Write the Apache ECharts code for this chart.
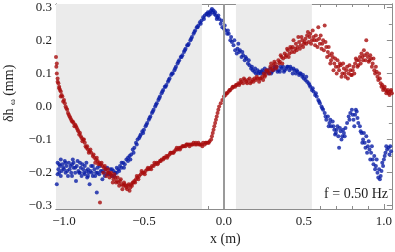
<!DOCTYPE html>
<html><head><meta charset="utf-8">
<script src="https://cdn.jsdelivr.net/npm/echarts@6/dist/echarts.min.js"></script>
<style>html,body{margin:0;padding:0;background:#fff}#c{width:395px;height:252px}</style>
</head><body><div id="c"></div>
<script>
const xTickLabels = [-1.0, -0.5, 0.0, 0.5, 1.0];
const yTickLabels = [-0.3, -0.2, -0.1, 0.0, 0.1, 0.2, 0.3];
const subRegion = [-1.05, -0.1375];
const superRegion = [0.075, 0.55];
const blueSeries = [[-1.045,-0.235],[-1.04,-0.17],[-1.035,-0.19],[-1.03,-0.2],[-1.025,-0.18],[-1.02,-0.16],[-1.015,-0.195],[-1.01,-0.175],[-1.0,-0.19],[-0.995,-0.165],[-0.99,-0.2],[-0.985,-0.18],[-0.975,-0.21],[-0.97,-0.17],[-0.965,-0.19],[-0.955,-0.2],[-0.95,-0.175],[-0.945,-0.16],[-0.94,-0.185],[-0.93,-0.2],[-0.925,-0.225],[-0.92,-0.18],[-0.91,-0.195],[-0.905,-0.2],[-0.9,-0.17],[-0.895,-0.185],[-0.89,-0.21],[-0.88,-0.19],[-0.875,-0.2],[-0.87,-0.18],[-0.86,-0.195],[-0.855,-0.215],[-0.85,-0.19],[-0.845,-0.2],[-0.84,-0.235],[-0.83,-0.18],[-0.825,-0.2],[-0.82,-0.21],[-0.81,-0.19],[-0.8,-0.2],[-0.795,-0.26],[-0.79,-0.185],[-0.78,-0.205],[-0.77,-0.195],[-0.76,-0.22],[-0.75,-0.2],[-0.74,-0.19],[-0.73,-0.205],[-0.72,-0.2],[-0.71,-0.19],[-0.7,-0.21],[-0.69,-0.195],[-0.68,-0.2],[-0.67,-0.185],[-0.66,-0.19],[-0.65,-0.18],[-0.64,-0.185],[-0.63,-0.17],[-0.62,-0.175],[-0.61,-0.16],[-0.6,-0.165],[-0.59,-0.15],[-0.58,-0.145],[-0.57,-0.13],[-0.56,-0.125],[-0.55,-0.11],[-0.54,-0.1],[-0.53,-0.095],[-0.52,-0.085],[-0.51,-0.075],[-0.5,-0.07],[-0.49,-0.06],[-0.48,-0.05],[-0.47,-0.04],[-0.46,-0.03],[-0.45,-0.02],[-0.44,-0.01],[-0.43,0.0],[-0.42,0.01],[-0.41,0.02],[-0.4,0.03],[-0.39,0.04],[-0.38,0.05],[-0.37,0.06],[-0.36,0.065],[-0.35,0.075],[-0.34,0.085],[-0.33,0.095],[-0.32,0.1],[-0.31,0.11],[-0.3,0.12],[-0.29,0.13],[-0.28,0.14],[-0.27,0.15],[-0.26,0.155],[-0.25,0.165],[-0.24,0.175],[-0.23,0.185],[-0.22,0.19],[-0.21,0.2],[-0.2,0.21],[-0.19,0.22],[-0.18,0.23],[-0.17,0.24],[-0.16,0.245],[-0.15,0.255],[-0.14,0.26],[-0.13,0.27],[-0.12,0.275],[-0.11,0.28],[-0.1,0.285],[-0.09,0.285],[-0.08,0.29],[-0.07,0.285],[-0.06,0.28],[-0.05,0.275],[-0.04,0.27],[-0.03,0.265],[-0.02,0.25],[-0.01,0.24],[0.0,0.235],[0.01,0.23],[0.02,0.22],[0.03,0.22],[0.04,0.2],[0.05,0.195],[0.06,0.185],[0.07,0.17],[0.08,0.16],[0.09,0.19],[0.1,0.17],[0.11,0.15],[0.12,0.155],[0.13,0.14],[0.14,0.145],[0.15,0.13],[0.16,0.125],[0.17,0.115],[0.18,0.11],[0.19,0.105],[0.2,0.1],[0.21,0.11],[0.22,0.105],[0.23,0.1],[0.24,0.11],[0.25,0.1],[0.26,0.105],[0.27,0.11],[0.28,0.1],[0.29,0.115],[0.3,0.105],[0.31,0.11],[0.32,0.115],[0.33,0.12],[0.34,0.11],[0.35,0.105],[0.36,0.115],[0.37,0.12],[0.38,0.11],[0.39,0.115],[0.4,0.12],[0.41,0.11],[0.42,0.115],[0.43,0.1],[0.44,0.11],[0.45,0.1],[0.46,0.105],[0.47,0.095],[0.48,0.1],[0.49,0.09],[0.5,0.085],[0.51,0.08],[0.52,0.075],[0.53,0.07],[0.54,0.06],[0.55,0.05],[0.56,0.045],[0.57,0.035],[0.58,0.03],[0.59,0.02],[0.6,0.01],[0.61,0.0],[0.62,-0.01],[0.63,-0.02],[0.64,-0.04],[0.65,-0.03],[0.66,-0.05],[0.67,-0.06],[0.68,-0.045],[0.69,-0.07],[0.7,-0.08],[0.71,-0.06],[0.72,-0.125],[0.73,-0.075],[0.74,-0.09],[0.75,-0.08],[0.76,-0.065],[0.77,-0.05],[0.78,-0.03],[0.79,-0.02],[0.8,-0.01],[0.81,-0.04],[0.82,-0.025],[0.83,-0.015],[0.84,-0.05],[0.85,-0.06],[0.86,-0.08],[0.87,-0.1],[0.88,-0.11],[0.89,-0.09],[0.9,-0.12],[0.91,-0.13],[0.92,-0.14],[0.93,-0.16],[0.94,-0.15],[0.95,-0.18],[0.96,-0.2],[0.97,-0.19],[0.975,-0.22],[0.98,-0.21],[0.99,-0.17],[1.0,-0.16],[1.01,-0.14],[1.02,-0.13],[1.03,-0.125],[1.04,-0.12],[1.045,-0.135]];
const blueExtra = [[-1.04,-0.205],[-1.03,-0.175],[-1.02,-0.21],[-1.005,-0.185],[-0.99,-0.17],[-0.98,-0.195],[-0.96,-0.18],[-0.95,-0.21],[-0.94,-0.17],[-0.93,-0.185],[-0.915,-0.165],[-0.9,-0.2],[-0.885,-0.175],[-0.87,-0.205],[-0.86,-0.17],[-0.85,-0.21],[-0.835,-0.195],[-0.82,-0.18],[-0.805,-0.21],[-0.79,-0.2],[-0.775,-0.18],[-0.76,-0.195],[-0.745,-0.21],[-0.73,-0.185],[-0.715,-0.205],[-0.7,-0.19],[-0.685,-0.21],[-0.67,-0.2],[-0.655,-0.195],[-0.64,-0.17],[-0.625,-0.185],[-0.6,-0.155],[-0.585,-0.16],[-0.565,-0.14],[-0.545,-0.115],[-0.525,-0.09],[-0.505,-0.08],[-0.485,-0.055],[-0.465,-0.035],[-0.445,-0.015],[-0.425,0.005],[-0.405,0.025],[-0.385,0.045],[-0.365,0.06],[-0.345,0.08],[-0.325,0.1],[-0.305,0.115],[-0.285,0.135],[-0.265,0.15],[-0.245,0.17],[-0.225,0.185],[-0.205,0.205],[-0.185,0.225],[-0.165,0.24],[-0.145,0.25],[-0.125,0.265],[-0.105,0.28],[-0.095,0.275],[-0.085,0.28],[-0.075,0.295],[-0.065,0.29],[-0.055,0.285],[-0.045,0.265],[-0.035,0.275],[-0.015,0.26],[0.005,0.245],[0.025,0.23],[0.045,0.21],[0.065,0.2],[0.085,0.175],[0.095,0.165],[0.115,0.165],[0.135,0.15],[0.155,0.14],[0.175,0.12],[0.195,0.115],[0.215,0.1],[0.235,0.105],[0.255,0.115],[0.275,0.105],[0.295,0.1],[0.315,0.12],[0.335,0.105],[0.355,0.12],[0.375,0.105],[0.395,0.12],[0.415,0.12],[0.435,0.115],[0.455,0.11],[0.475,0.1],[0.495,0.095],[0.515,0.09],[0.535,0.065],[0.555,0.055],[0.575,0.04],[0.595,0.015],[0.615,-0.005],[0.635,-0.03],[0.655,-0.06],[0.665,-0.04],[0.685,-0.06],[0.695,-0.085],[0.705,-0.07],[0.715,-0.09],[0.725,-0.065],[0.735,-0.1],[0.745,-0.07],[0.755,-0.09],[0.785,-0.04],[0.805,-0.025],[0.815,-0.06],[0.825,-0.01],[0.835,-0.035],[0.855,-0.075],[0.865,-0.11],[0.875,-0.08],[0.885,-0.125],[0.895,-0.14],[0.905,-0.105],[0.915,-0.16],[0.925,-0.12],[0.935,-0.175],[0.945,-0.19],[0.955,-0.16],[0.965,-0.215],[0.985,-0.195],[0.995,-0.18],[1.005,-0.15],[1.015,-0.12],[1.035,-0.145]];
const redSeries = [[-1.05,0.15],[-1.048,0.12],[-1.045,0.1],[-1.04,0.085],[-1.035,0.07],[-1.03,0.06],[-1.025,0.05],[-1.02,0.045],[-1.015,0.035],[-1.01,0.03],[-1.0,0.02],[-0.995,0.01],[-0.99,0.0],[-0.98,-0.01],[-0.975,-0.02],[-0.97,-0.025],[-0.96,-0.035],[-0.955,-0.04],[-0.95,-0.045],[-0.94,-0.05],[-0.93,-0.055],[-0.925,-0.06],[-0.92,-0.065],[-0.91,-0.075],[-0.9,-0.08],[-0.895,-0.09],[-0.89,-0.095],[-0.88,-0.1],[-0.87,-0.11],[-0.865,-0.12],[-0.86,-0.125],[-0.85,-0.13],[-0.84,-0.135],[-0.83,-0.14],[-0.82,-0.15],[-0.81,-0.155],[-0.8,-0.16],[-0.79,-0.165],[-0.78,-0.17],[-0.775,-0.29],[-0.77,-0.175],[-0.76,-0.18],[-0.75,-0.185],[-0.74,-0.19],[-0.73,-0.2],[-0.72,-0.2],[-0.71,-0.205],[-0.7,-0.21],[-0.69,-0.22],[-0.68,-0.215],[-0.67,-0.225],[-0.66,-0.23],[-0.65,-0.225],[-0.64,-0.235],[-0.63,-0.24],[-0.62,-0.235],[-0.61,-0.245],[-0.6,-0.24],[-0.59,-0.255],[-0.58,-0.235],[-0.57,-0.23],[-0.56,-0.225],[-0.55,-0.22],[-0.54,-0.215],[-0.53,-0.21],[-0.52,-0.205],[-0.51,-0.2],[-0.5,-0.2],[-0.49,-0.195],[-0.48,-0.19],[-0.47,-0.19],[-0.46,-0.185],[-0.45,-0.18],[-0.44,-0.18],[-0.43,-0.175],[-0.42,-0.17],[-0.41,-0.17],[-0.4,-0.165],[-0.39,-0.16],[-0.38,-0.16],[-0.37,-0.155],[-0.36,-0.15],[-0.35,-0.15],[-0.34,-0.145],[-0.33,-0.14],[-0.32,-0.14],[-0.31,-0.135],[-0.3,-0.13],[-0.29,-0.13],[-0.28,-0.125],[-0.27,-0.125],[-0.26,-0.12],[-0.25,-0.12],[-0.24,-0.12],[-0.23,-0.115],[-0.22,-0.115],[-0.21,-0.115],[-0.2,-0.115],[-0.19,-0.11],[-0.18,-0.115],[-0.17,-0.115],[-0.16,-0.11],[-0.15,-0.115],[-0.14,-0.115],[-0.13,-0.11],[-0.12,-0.115],[-0.11,-0.11],[-0.1,-0.11],[-0.09,-0.105],[-0.08,-0.1],[-0.075,-0.09],[-0.07,-0.08],[-0.065,-0.07],[-0.06,-0.06],[-0.055,-0.05],[-0.05,-0.04],[-0.045,-0.03],[-0.04,-0.02],[-0.035,-0.01],[-0.03,0.0],[-0.02,0.01],[-0.01,0.02],[0.0,0.03],[0.01,0.035],[0.02,0.04],[0.03,0.045],[0.04,0.05],[0.05,0.055],[0.06,0.06],[0.07,0.06],[0.08,0.065],[0.09,0.07],[0.1,0.07],[0.11,0.075],[0.12,0.07],[0.13,0.08],[0.14,0.075],[0.15,0.08],[0.16,0.085],[0.17,0.075],[0.18,0.08],[0.19,0.085],[0.2,0.08],[0.21,0.085],[0.22,0.075],[0.23,0.085],[0.24,0.09],[0.25,0.1],[0.26,0.095],[0.27,0.105],[0.28,0.11],[0.29,0.12],[0.3,0.115],[0.31,0.125],[0.32,0.13],[0.33,0.12],[0.34,0.14],[0.35,0.135],[0.36,0.15],[0.37,0.145],[0.38,0.16],[0.39,0.155],[0.4,0.17],[0.41,0.16],[0.42,0.175],[0.43,0.18],[0.44,0.165],[0.45,0.19],[0.46,0.18],[0.47,0.195],[0.48,0.185],[0.49,0.2],[0.5,0.19],[0.51,0.205],[0.52,0.215],[0.53,0.195],[0.54,0.22],[0.55,0.2],[0.56,0.21],[0.57,0.185],[0.58,0.2],[0.59,0.24],[0.6,0.19],[0.61,0.175],[0.62,0.2],[0.63,0.245],[0.64,0.18],[0.65,0.165],[0.66,0.155],[0.67,0.14],[0.68,0.15],[0.69,0.13],[0.7,0.12],[0.71,0.14],[0.72,0.11],[0.73,0.125],[0.74,0.1],[0.75,0.115],[0.76,0.09],[0.77,0.12],[0.78,0.1],[0.79,0.11],[0.8,0.095],[0.81,0.12],[0.82,0.13],[0.83,0.14],[0.84,0.125],[0.85,0.15],[0.86,0.16],[0.87,0.14],[0.88,0.155],[0.89,0.2],[0.9,0.15],[0.91,0.14],[0.92,0.145],[0.93,0.13],[0.94,0.11],[0.95,0.12],[0.96,0.09],[0.97,0.1],[0.98,0.07],[0.99,0.065],[1.0,0.055],[1.01,0.05],[1.02,0.045],[1.03,0.04],[1.04,0.045],[1.05,0.04]];
const redExtra = [[-1.045,0.13],[-1.04,0.075],[-1.03,0.055],[-1.02,0.03],[-1.005,0.015],[-0.985,-0.005],[-0.965,-0.03],[-0.945,-0.045],[-0.935,-0.06],[-0.915,-0.07],[-0.905,-0.085],[-0.885,-0.105],[-0.875,-0.1],[-0.855,-0.12],[-0.845,-0.14],[-0.835,-0.13],[-0.815,-0.145],[-0.805,-0.17],[-0.795,-0.155],[-0.785,-0.175],[-0.765,-0.17],[-0.755,-0.2],[-0.745,-0.18],[-0.735,-0.21],[-0.725,-0.19],[-0.715,-0.215],[-0.705,-0.2],[-0.695,-0.23],[-0.685,-0.205],[-0.675,-0.23],[-0.665,-0.215],[-0.655,-0.24],[-0.645,-0.22],[-0.635,-0.25],[-0.625,-0.23],[-0.615,-0.24],[-0.605,-0.25],[-0.595,-0.235],[-0.585,-0.245],[-0.575,-0.24],[-0.565,-0.23],[-0.555,-0.23],[-0.545,-0.21],[-0.535,-0.22],[-0.515,-0.195],[-0.495,-0.205],[-0.475,-0.185],[-0.455,-0.19],[-0.435,-0.17],[-0.415,-0.175],[-0.395,-0.165],[-0.375,-0.155],[-0.355,-0.155],[-0.335,-0.14],[-0.315,-0.14],[-0.295,-0.125],[-0.275,-0.13],[-0.255,-0.12],[-0.235,-0.115],[-0.215,-0.12],[-0.195,-0.115],[-0.175,-0.11],[-0.155,-0.115],[-0.135,-0.12],[-0.115,-0.11],[-0.095,-0.11],[0.015,0.04],[0.035,0.05],[0.055,0.06],[0.075,0.065],[0.095,0.065],[0.105,0.08],[0.125,0.085],[0.145,0.07],[0.165,0.07],[0.185,0.075],[0.205,0.09],[0.225,0.085],[0.245,0.08],[0.255,0.09],[0.265,0.11],[0.285,0.1],[0.295,0.13],[0.305,0.11],[0.315,0.135],[0.325,0.115],[0.345,0.13],[0.355,0.155],[0.365,0.13],[0.385,0.15],[0.395,0.175],[0.405,0.15],[0.415,0.18],[0.425,0.165],[0.435,0.2],[0.445,0.175],[0.455,0.17],[0.465,0.21],[0.475,0.175],[0.485,0.21],[0.495,0.18],[0.505,0.195],[0.515,0.19],[0.525,0.225],[0.535,0.21],[0.545,0.19],[0.555,0.23],[0.565,0.2],[0.575,0.215],[0.585,0.18],[0.595,0.205],[0.605,0.215],[0.615,0.19],[0.625,0.17],[0.635,0.195],[0.645,0.15],[0.655,0.18],[0.665,0.13],[0.675,0.16],[0.685,0.11],[0.695,0.145],[0.705,0.1],[0.715,0.12],[0.725,0.13],[0.735,0.09],[0.745,0.13],[0.755,0.1],[0.765,0.11],[0.775,0.085],[0.785,0.125],[0.795,0.095],[0.805,0.11],[0.815,0.1],[0.825,0.145],[0.835,0.12],[0.845,0.14],[0.855,0.13],[0.865,0.15],[0.875,0.17],[0.885,0.14],[0.895,0.16],[0.905,0.135],[0.915,0.155],[0.925,0.12],[0.935,0.145],[0.945,0.1],[0.955,0.105],[0.965,0.08],[0.975,0.085],[0.985,0.06],[0.995,0.05],[1.005,0.06],[1.015,0.04],[1.025,0.05],[1.035,0.035],[1.045,0.05]];

const xMinorTicks = [];
for (let i = -10; i <= 10; i++) xMinorTicks.push(i / 10);
const yMinorTicks = [];
for (let i = -6; i <= 6; i++) yMinorTicks.push(i / 20);

const fmt = v => (v < 0 ? '\u2212' : '') + Math.abs(v).toFixed(1);
const serif = 'Liberation Serif';
const frameColor = '#8c8c8c';

function xAx(pos, labels, ticks, len) {
  return {
    type: 'value', position: pos, min: -1.05, max: 1.05,
    axisLine: { show: true, onZero: false, lineStyle: { color: frameColor, width: 1 } },
    axisTick: { show: true, inside: true, length: len, customValues: ticks, lineStyle: { color: frameColor } },
    axisLabel: labels ? { show: true, customValues: xTickLabels, formatter: fmt, color: '#222', fontFamily: serif, fontSize: 13, margin: 6 } : { show: false },
    splitLine: { show: false }
  };
}
function yAx(pos, labels, ticks, len) {
  return {
    type: 'value', position: pos, min: -0.31, max: 0.31,
    axisLine: { show: true, onZero: false, lineStyle: { color: frameColor, width: 1 } },
    axisTick: { show: true, inside: true, length: len, customValues: ticks, lineStyle: { color: frameColor } },
    axisLabel: labels ? { show: true, customValues: yTickLabels, formatter: fmt, color: '#222', fontFamily: serif, fontSize: 13, margin: 4 } : { show: false },
    splitLine: { show: false }
  };
}

const chart = echarts.init(document.getElementById('c'), null, { renderer: 'canvas' });
chart.setOption({
  animation: false,
  backgroundColor: '#fff',
  grid: { left: 56, right: 3, top: 4, bottom: 43, containLabel: false },
  xAxis: [xAx('bottom', true, xTickLabels, 5), xAx('top', false, xTickLabels, 5), xAx('bottom', false, xMinorTicks, 3), xAx('top', false, xMinorTicks, 3)],
  yAxis: [yAx('left', true, yTickLabels, 5), yAx('right', false, yTickLabels, 5), yAx('left', false, yMinorTicks, 3), yAx('right', false, yMinorTicks, 3)],
  series: [
    {
      type: 'scatter', xAxisIndex: 0, yAxisIndex: 0, data: blueSeries.concat(blueExtra), symbolSize: 4,
      itemStyle: { color: '#0a1ea6' }, z: 3,
      markArea: { silent: true, itemStyle: { color: '#ebebeb' }, data: [[{ xAxis: subRegion[0] }, { xAxis: subRegion[1] }], [{ xAxis: superRegion[0] }, { xAxis: superRegion[1] }]] },
      markLine: { silent: true, symbol: 'none', label: { show: false }, lineStyle: { color: '#9a9a9a', width: 2, type: 'solid' }, data: [{ xAxis: 0 }] }
    },
    { type: 'scatter', xAxisIndex: 0, yAxisIndex: 0, data: redSeries.concat(redExtra), symbolSize: 4, itemStyle: { color: '#a80d0d' }, z: 4 }
  ],
  graphic: [
    { type: 'text', left: 69, top: 9, style: { text: 'sub', font: '14px "Liberation Serif"', fill: '#222' } },
    { type: 'text', left: 240, top: 9, style: { text: 'super', font: '14px "Liberation Serif"', fill: '#222' } },
    { type: 'text', right: 7, top: 187, style: { text: 'f = 0.50 Hz', font: '14px "Liberation Serif"', fill: '#222' } },
    { type: 'text', left: 210, top: 232, style: { text: 'x (m)', font: '14px "Liberation Serif"', fill: '#222' } },
    { type: 'text', x: 2, y: 122, rotation: Math.PI / 2, style: { text: '{a|δh} {b|ω} {a|(mm)}', rich: { a: { fontFamily: serif, fontSize: 14, fill: '#222' }, b: { fontFamily: serif, fontSize: 9, fill: '#222', padding: [6, 0, 0, 0] } } } }
  ]
});
</script></body></html>
